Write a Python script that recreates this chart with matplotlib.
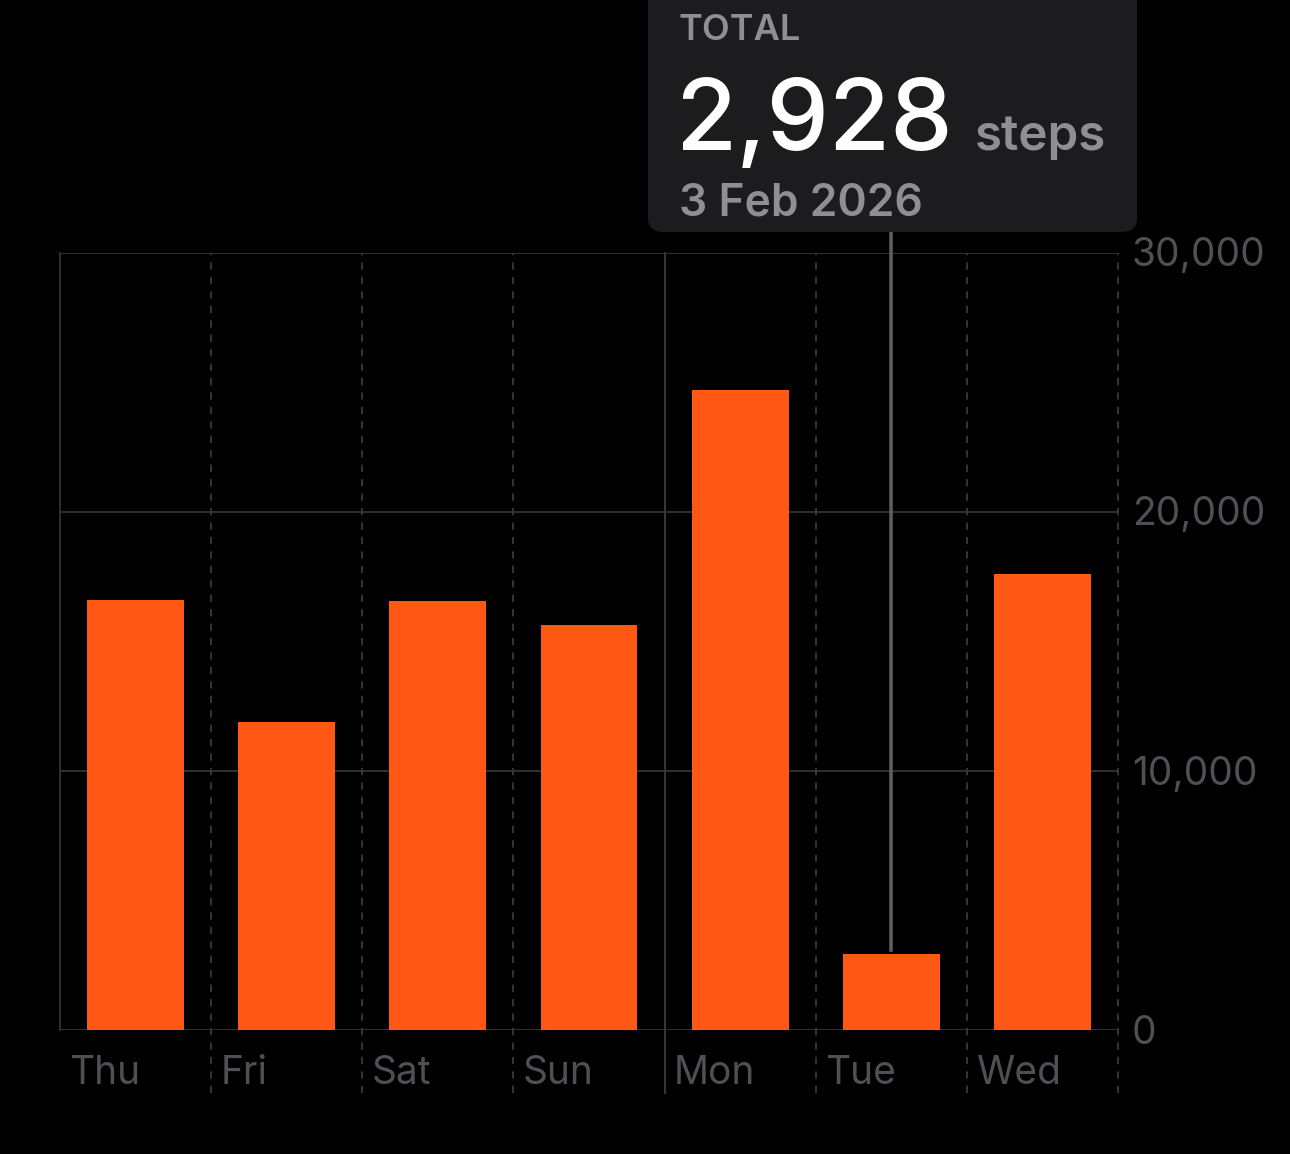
import matplotlib.pyplot as plt
from matplotlib.patches import FancyBboxPatch

# daily step counts (Thu .. Wed)
days = ["Thu", "Fri", "Sat", "Sun", "Mon", "Tue", "Wed"]
steps = [16600, 11900, 16550, 15650, 24700, 2928, 17600]
y_ticks = [0, 10000, 20000, 30000]
y_tick_labels = ["0", "10,000", "20,000", "30,000"]

selected_day = "Tue"
tooltip_title = "TOTAL"
tooltip_value = "2,928"
tooltip_unit = "steps"
tooltip_date = "3 Feb 2026"

BAR_COLOR = "#ff5714"
GRID_COLOR = "#333336"
LABEL_COLOR = "#505054"
TIP_BG = "#1c1c1e"
TIP_GRAY = "#8e8e93"

W, H = 1290, 1154
plt.rcParams["font.family"] = ["Inter", "DejaVu Sans"]

fig = plt.figure(figsize=(W / 100, H / 100), dpi=100, facecolor="black")


def fx(x):
    return x / W


def fy(y):
    return 1 - y / H


ax_left, ax_right, ax_top, ax_bottom = 60, 1118, 253, 1030
ax_h = ax_bottom - ax_top
ax = fig.add_axes([fx(ax_left), fy(ax_bottom),
                   (ax_right - ax_left) / W, ax_h / H])
ax.set_facecolor("black")
for side in ax.spines.values():
    side.set_visible(False)

x = list(range(len(days)))
ax.bar(x, steps, width=0.64, color=BAR_COLOR, zorder=3)
ax.set_xlim(-0.5, len(days) - 0.5)
ax.set_ylim(0, 30000)

# horizontal grid
for t in y_ticks:
    ax.axhline(t, color=GRID_COLOR, lw=1.3, zorder=1)

# vertical day separators
below = -(1093 - ax_bottom) / ax_h
for i in range(len(days) + 1):
    xv = i - 0.5
    if i == 0:
        ax.plot([xv, xv], [0, 1], transform=ax.get_xaxis_transform(),
                color=GRID_COLOR, lw=1.3, zorder=1, clip_on=False)
    elif i < len(days) and days[i] == "Mon":
        ax.plot([xv, xv], [below, 1], transform=ax.get_xaxis_transform(),
                color="#3a3a3c", lw=1.3, zorder=1, clip_on=False)
    else:
        ax.plot([xv, xv], [below, 1], transform=ax.get_xaxis_transform(),
                color="#3a3a3c", lw=1.3, ls=(0, (4, 4)), zorder=1,
                clip_on=False)

ax.set_xticks([])
ax.set_yticks([])

# day labels
for i, d in enumerate(days):
    ax.text(i - 0.5 + 0.06, -(1074 - ax_bottom) / ax_h, d,
            transform=ax.get_xaxis_transform(), ha="left", va="center",
            color=LABEL_COLOR, fontsize=28)

# y labels on the right
for t, lab in zip(y_ticks, y_tick_labels):
    ax.text(1 + 14 / (ax_right - ax_left), t - 3 / ax_h * 30000, lab,
            transform=ax.get_yaxis_transform(), ha="left", va="center",
            color=LABEL_COLOR, fontsize=28)

# tooltip
sel = days.index(selected_day)
ax.plot([sel, sel], [steps[sel] + 150, 30000 + (ax_top - 232) / ax_h * 30000],
        color="#5e5e62", lw=2.6, zorder=4, clip_on=False)

box = FancyBboxPatch((fx(648), fy(232)), (1137 - 648) / W, 232 / H + 0.02,
                     boxstyle="round,pad=0,rounding_size=0.012",
                     transform=fig.transFigure, facecolor=TIP_BG,
                     edgecolor="none", zorder=5)
fig.patches.append(box)

fig.text(fx(679), fy(30), tooltip_title, color=TIP_GRAY, fontsize=26,
         fontweight="semibold", va="center", ha="left", zorder=6)
fig.text(fx(675), fy(150), tooltip_value, color="white", fontsize=71.5,
         fontweight="medium", va="baseline", ha="left", zorder=6)
fig.text(fx(975), fy(150), tooltip_unit, color=TIP_GRAY, fontsize=35.5,
         fontweight="semibold", va="baseline", ha="left", zorder=6)
fig.text(fx(679), fy(203), tooltip_date, color=TIP_GRAY, fontsize=32,
         fontweight="semibold", va="center", ha="left", zorder=6)

fig.savefig("out.png", dpi=100, facecolor="black")
